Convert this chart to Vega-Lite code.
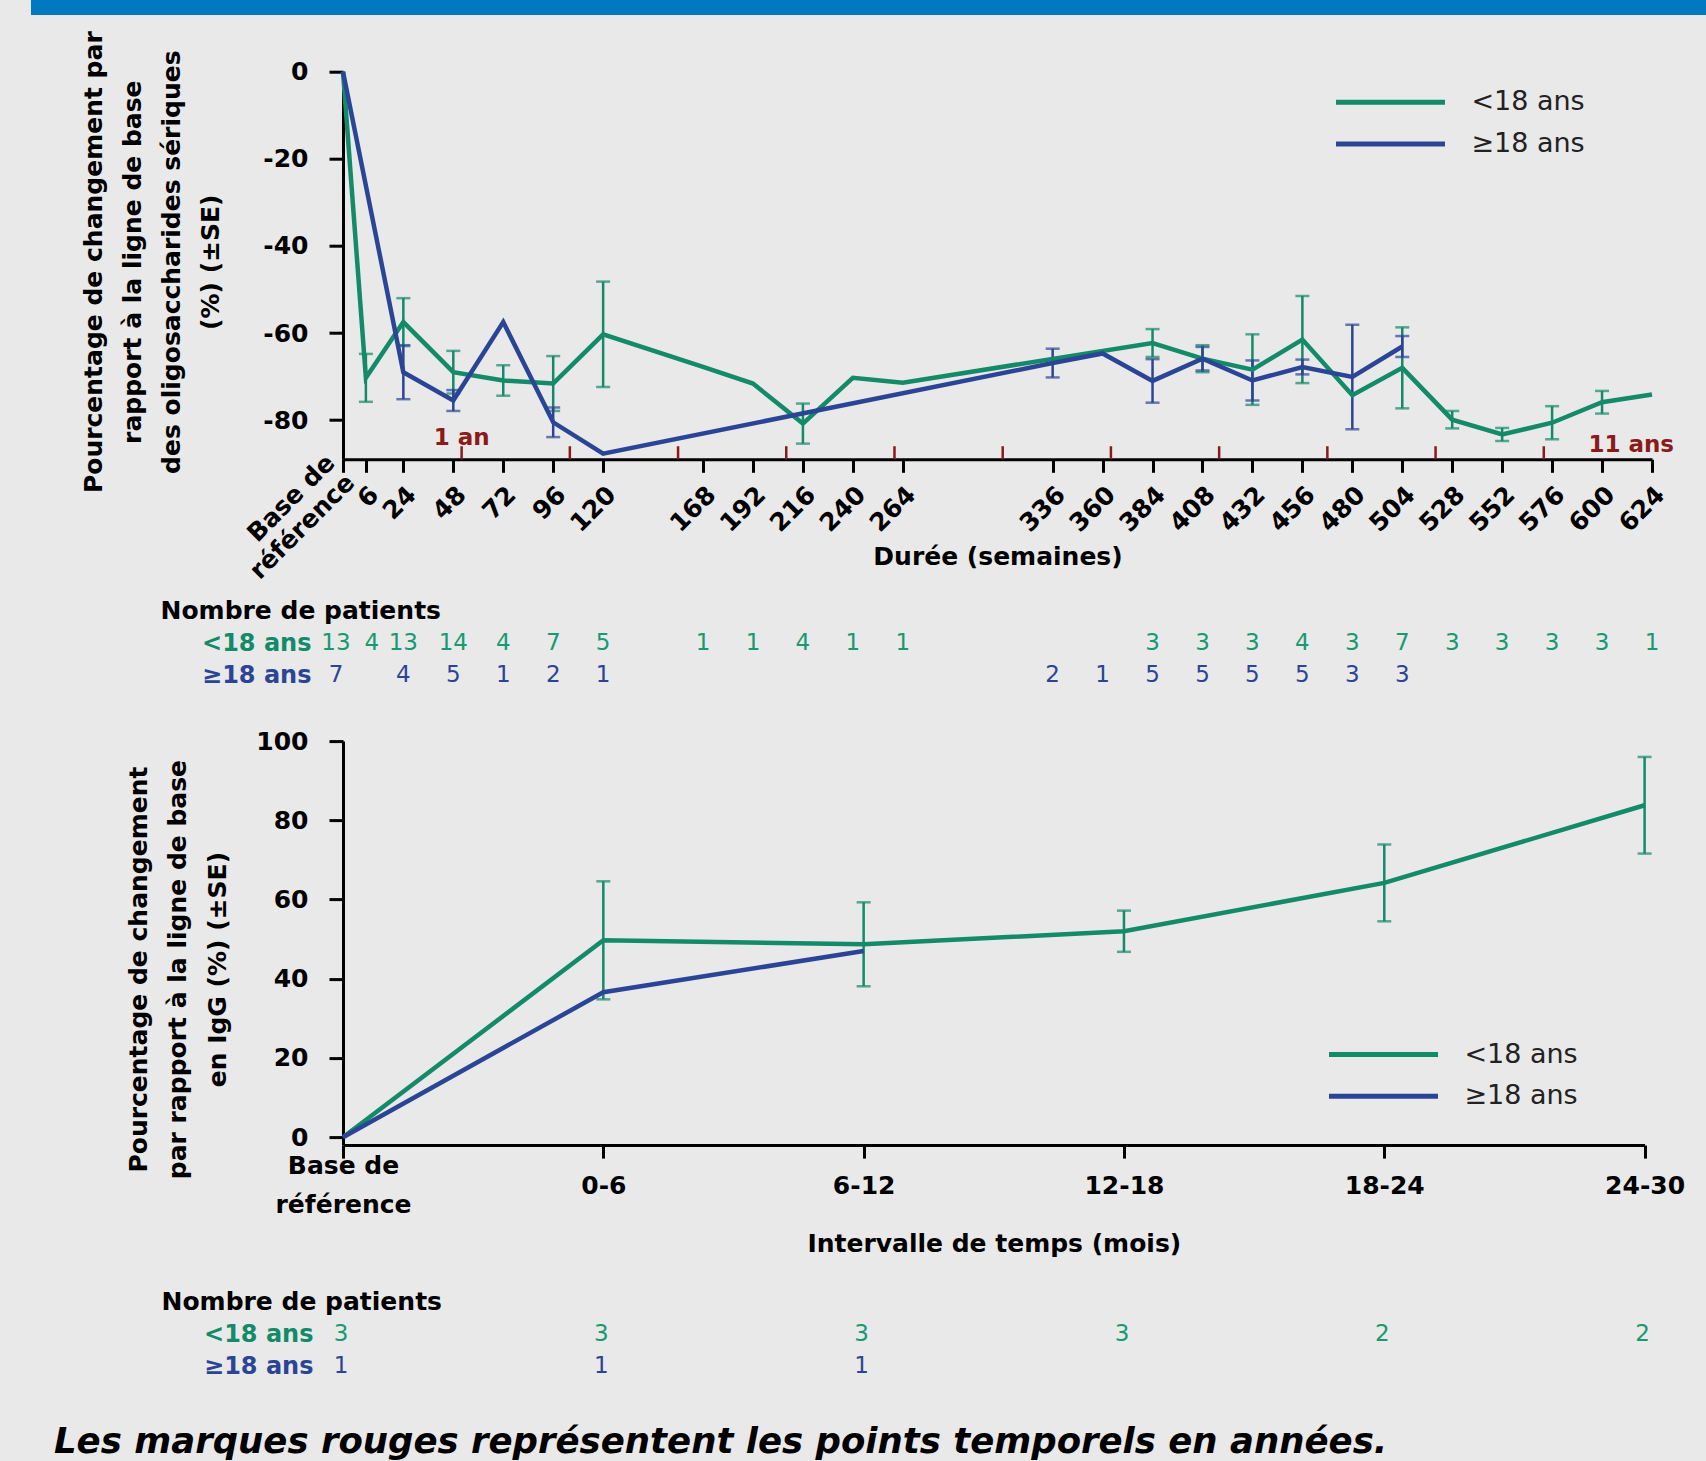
{
  "$schema": "https://vega.github.io/schema/vega-lite/v6.json",
  "background": "#e9e9e9",
  "padding": {"left": 30, "top": 0, "right": 0, "bottom": 0},
  "bounds": "flush",
  "spacing": 56.7,
  "resolve": {"scale": {"color": "independent"}, "legend": {"color": "independent"}},
  "datasets": {
    "oligo": [
      {"week": -5, "group": "<18 ans", "pct": 0, "se": null, "n": 13},
      {"week": 6, "group": "<18 ans", "pct": -70.3, "se": 5.5, "n": 4},
      {"week": 24, "group": "<18 ans", "pct": -57.5, "se": 5.5, "n": 13},
      {"week": 48, "group": "<18 ans", "pct": -69.0, "se": 4.9, "n": 14},
      {"week": 72, "group": "<18 ans", "pct": -70.9, "se": 3.5, "n": 4},
      {"week": 96, "group": "<18 ans", "pct": -71.6, "se": 6.3, "n": 7},
      {"week": 120, "group": "<18 ans", "pct": -60.3, "se": 12.1, "n": 5},
      {"week": 168, "group": "<18 ans", "pct": -67.8, "se": null, "n": 1},
      {"week": 192, "group": "<18 ans", "pct": -71.6, "se": null, "n": 1},
      {"week": 216, "group": "<18 ans", "pct": -80.8, "se": 4.6, "n": 4},
      {"week": 240, "group": "<18 ans", "pct": -70.3, "se": null, "n": 1},
      {"week": 264, "group": "<18 ans", "pct": -71.4, "se": null, "n": 1},
      {"week": 384, "group": "<18 ans", "pct": -62.3, "se": 3.2, "n": 3},
      {"week": 408, "group": "<18 ans", "pct": -65.9, "se": 3.1, "n": 3},
      {"week": 432, "group": "<18 ans", "pct": -68.4, "se": 8.1, "n": 3},
      {"week": 456, "group": "<18 ans", "pct": -61.5, "se": 10.0, "n": 4},
      {"week": 480, "group": "<18 ans", "pct": -74.3, "se": null, "n": 3},
      {"week": 504, "group": "<18 ans", "pct": -68.0, "se": 9.3, "n": 7},
      {"week": 528, "group": "<18 ans", "pct": -79.9, "se": 2.0, "n": 3},
      {"week": 552, "group": "<18 ans", "pct": -83.3, "se": 1.5, "n": 3},
      {"week": 576, "group": "<18 ans", "pct": -80.6, "se": 3.8, "n": 3},
      {"week": 600, "group": "<18 ans", "pct": -75.9, "se": 2.6, "n": 3},
      {"week": 624, "group": "<18 ans", "pct": -74.1, "se": null, "n": 1},
      {"week": -5, "group": "≥18 ans", "pct": 0, "se": null, "n": 7},
      {"week": 24, "group": "≥18 ans", "pct": -69.0, "se": 6.2, "n": 4},
      {"week": 48, "group": "≥18 ans", "pct": -75.5, "se": 2.4, "n": 5},
      {"week": 72, "group": "≥18 ans", "pct": -57.5, "se": null, "n": 1},
      {"week": 96, "group": "≥18 ans", "pct": -80.5, "se": 3.4, "n": 2},
      {"week": 120, "group": "≥18 ans", "pct": -87.7, "se": null, "n": 1},
      {"week": 336, "group": "≥18 ans", "pct": -66.9, "se": 3.3, "n": 2},
      {"week": 360, "group": "≥18 ans", "pct": -64.7, "se": null, "n": 1},
      {"week": 384, "group": "≥18 ans", "pct": -71.0, "se": 5.0, "n": 5},
      {"week": 408, "group": "≥18 ans", "pct": -65.9, "se": 2.7, "n": 5},
      {"week": 432, "group": "≥18 ans", "pct": -70.9, "se": 4.6, "n": 5},
      {"week": 456, "group": "≥18 ans", "pct": -67.8, "se": 1.7, "n": 5},
      {"week": 480, "group": "≥18 ans", "pct": -70.1, "se": 12.0, "n": 3},
      {"week": 504, "group": "≥18 ans", "pct": -63.1, "se": 2.4, "n": 3}
    ],
    "igg": [
      {"interval": "Base de référence", "group": "<18 ans", "pct": 0, "se": null, "n": 3},
      {"interval": "0-6", "group": "<18 ans", "pct": 49.7, "se": 14.9, "n": 3},
      {"interval": "6-12", "group": "<18 ans", "pct": 48.7, "se": 10.6, "n": 3},
      {"interval": "12-18", "group": "<18 ans", "pct": 52.0, "se": 5.2, "n": 3},
      {"interval": "18-24", "group": "<18 ans", "pct": 64.2, "se": 9.7, "n": 2},
      {"interval": "24-30", "group": "<18 ans", "pct": 83.8, "se": 12.2, "n": 2},
      {"interval": "Base de référence", "group": "≥18 ans", "pct": 0, "se": null, "n": 1},
      {"interval": "0-6", "group": "≥18 ans", "pct": 36.6, "se": null, "n": 1},
      {"interval": "6-12", "group": "≥18 ans", "pct": 47.0, "se": null, "n": 1}
    ],
    "years": [
      {"year": 1, "week": 52}, {"year": 2, "week": 104}, {"year": 3, "week": 156},
      {"year": 4, "week": 208}, {"year": 5, "week": 260}, {"year": 6, "week": 312},
      {"year": 7, "week": 364}, {"year": 8, "week": 416}, {"year": 9, "week": 468},
      {"year": 10, "week": 520}, {"year": 11, "week": 572}
    ],
    "yearLabels": [
      {"label": "1 an", "at": 52, "level": -85.8},
      {"label": "11 ans", "at": 614, "level": -87.3}
    ],
    "banner": [{"from": 0, "to": 1}]
  },
  "vconcat": [
    {
      "width": 1364, "height": 15,
      "data": {"name": "banner"},
      "mark": {"type": "rect", "color": "#0079c1"},
      "encoding": {
        "x": {"field": "from", "type": "quantitative", "scale": {"domain": [0.18616, 1], "nice": false, "zero": false}, "axis": null},
        "x2": {"field": "to"}
      }
    },
    {
      "width": 1309, "height": 387.6,
      "layer": [
        {
          "data": {"name": "years"},
          "mark": {"type": "rule", "color": "#8b1a1a", "strokeWidth": 2.5, "clip": false},
          "encoding": {
            "x": {"field": "week", "type": "quantitative", "scale": {"domain": [-5, 624], "nice": false, "zero": false}},
            "y": {"datum": -89, "type": "quantitative", "scale": {"domain": [-89, 0], "nice": false, "zero": false}},
            "y2": {"datum": -86}
          }
        },
        {
          "data": {"name": "yearLabels"},
          "mark": {"type": "text", "color": "#8b1a1a", "font": "DejaVu Sans", "fontWeight": "bold", "fontSize": 23, "baseline": "alphabetic", "align": "center"},
          "encoding": {
            "x": {"field": "at", "type": "quantitative"},
            "y": {"field": "level", "type": "quantitative"},
            "text": {"field": "label", "type": "nominal"}
          }
        },
        {
          "data": {"name": "oligo"},
          "encoding": {
            "x": {
              "field": "week", "type": "quantitative",
              "scale": {"domain": [-5, 624], "nice": false, "zero": false},
              "axis": {
                "title": "Durée (semaines)",
                "values": [-5, 6, 24, 48, 72, 96, 120, 168, 192, 216, 240, 264, 336, 360, 384, 408, 432, 456, 480, 504, 528, 552, 576, 600, 624],
                "labelExpr": "datum.value == -5 ? ['Base de', 'référence'] : datum.label",
                "labelAngle": -45, "labelAlign": "right", "labelBaseline": "middle",
                "labelPadding": {"condition": {"test": "datum.value == -5", "value": -14}, "value": 18},
                "labelOffset": {"condition": {"test": "datum.value == -5", "value": -13}, "value": 8},
                "labelLineHeight": 28,
                "labelOverlap": false, "labelFlush": false, "tickSize": 13,
                "titleY": 97, "titleBaseline": "middle"
              }
            },
            "y": {
              "field": "pct", "type": "quantitative",
              "scale": {"domain": [-89, 0], "nice": false, "zero": false},
              "axis": {
                "title": ["Pourcentage de changement par", "rapport à la ligne de base", "des oligosaccharides sériques", "(%) (±SE)"],
                "values": [0, -20, -40, -60, -80],
                "labelExpr": "'' + datum.value",
                "tickSize": 14, "labelPadding": 21,
                "titleX": -249.5, "titleY": 190, "titleAngle": -90, "titleAlign": "center",
                "titleBaseline": "middle", "titleLineHeight": 39
              }
            }
          },
          "layer": [
            {
              "transform": [{"filter": "datum.group == '<18 ans' && datum.se != null"}],
              "mark": {"type": "errorbar", "color": "#138a68", "thickness": 2.5, "ticks": {"size": 14, "thickness": 2.5}},
              "encoding": {"yError": {"field": "se"}}
            },
            {
              "transform": [{"filter": "datum.group == '≥18 ans' && datum.se != null"}],
              "mark": {"type": "errorbar", "color": "#2b4596", "thickness": 2.5, "ticks": {"size": 14, "thickness": 2.5}},
              "encoding": {"yError": {"field": "se"}}
            },
            {
              "mark": {"type": "line", "strokeWidth": 4.5},
              "encoding": {
                "color": {
                  "field": "group", "type": "nominal",
                  "scale": {"domain": ["<18 ans", "≥18 ans"], "range": ["#138a68", "#2b4596"]},
                  "legend": {"title": null, "orient": "none", "legendX": 1031, "legendY": 14, "rowPadding": 11.7}
                }
              }
            }
          ]
        }
      ]
    },
    {
      "width": 1309, "height": 167.3,
      "data": {"name": "oligo"},
      "encoding": {
        "x": {"field": "week", "type": "quantitative", "scale": {"domain": [-5, 624], "nice": false, "zero": false}, "axis": null},
        "y": {
          "field": "group", "type": "nominal",
          "scale": {"type": "point", "domain": ["<18 ans", "≥18 ans"], "range": [127, 159], "padding": 0},
          "axis": {
            "title": "Nombre de patients", "titleAngle": 0, "titleX": -183, "titleY": 94,
            "titleAlign": "left", "titleBaseline": "middle",
            "domain": false, "ticks": false, "tickSize": 0, "labelPadding": 32, "labelFontSize": 24,
            "labelColor": {"condition": {"test": "datum.value == '<18 ans'", "value": "#138a68"}, "value": "#2b4596"}
          }
        },
        "text": {"field": "n", "type": "nominal"},
        "color": {"field": "group", "type": "nominal", "scale": {"domain": ["<18 ans", "≥18 ans"], "range": ["#179a72", "#2b4596"]}, "legend": null}
      },
      "layer": [
        {
          "transform": [{"filter": "datum.week == -5"}],
          "mark": {"type": "text", "font": "DejaVu Sans", "fontSize": 23, "baseline": "middle", "align": "center", "dx": -7}
        },
        {
          "transform": [{"filter": "datum.week == 6"}],
          "mark": {"type": "text", "font": "DejaVu Sans", "fontSize": 23, "baseline": "middle", "align": "center", "dx": 6}
        },
        {
          "transform": [{"filter": "datum.week > 6"}],
          "mark": {"type": "text", "font": "DejaVu Sans", "fontSize": 23, "baseline": "middle", "align": "center"}
        }
      ]
    },
    {
      "width": 1301.6, "height": 404,
      "data": {"name": "igg"},
      "encoding": {
        "x": {
          "field": "interval", "type": "ordinal",
          "sort": ["Base de référence", "0-6", "6-12", "12-18", "18-24", "24-30"],
          "scale": {"type": "point", "padding": 0},
          "axis": {
            "title": "Intervalle de temps (mois)",
            "labelAngle": 0,
            "labelExpr": "datum.value == 'Base de référence' ? ['Base de', 'référence'] : datum.label",
            "labelBaseline": "middle",
            "labelPadding": {"condition": {"test": "datum.value == 'Base de référence'", "value": 7.5}, "value": 27},
            "labelLineHeight": 39, "tickSize": 13,
            "titleY": 98.5, "titleBaseline": "middle"
          }
        },
        "y": {
          "field": "pct", "type": "quantitative",
          "scale": {"domain": [-2, 100], "nice": false, "zero": false},
          "axis": {
            "title": ["Pourcentage de changement", "par rapport à la ligne de base", "en IgG (%) (±SE)"],
            "values": [0, 20, 40, 60, 80, 100],
            "tickSize": 14, "labelPadding": 21,
            "titleX": -205, "titleY": 228, "titleAngle": -90, "titleAlign": "center",
            "titleBaseline": "middle", "titleLineHeight": 39.5
          }
        }
      },
      "layer": [
        {
          "transform": [{"filter": "datum.group == '<18 ans' && datum.se != null"}],
          "mark": {"type": "errorbar", "color": "#138a68", "thickness": 2.5, "ticks": {"size": 14, "thickness": 2.5}},
          "encoding": {"yError": {"field": "se"}}
        },
        {
          "mark": {"type": "line", "strokeWidth": 4.5},
          "encoding": {
            "color": {
              "field": "group", "type": "nominal",
              "scale": {"domain": ["<18 ans", "≥18 ans"], "range": ["#138a68", "#2b4596"]},
              "legend": {"title": null, "orient": "none", "legendX": 1024, "legendY": 297, "rowPadding": 11.7}
            }
          }
        }
      ]
    },
    {
      "width": 1301.6, "height": 170,
      "data": {"name": "igg"},
      "title": {
        "text": "Les marques rouges représentent les points temporels en années.",
        "orient": "bottom", "anchor": "start", "frame": "group", "dx": -289, "offset": 47,
        "font": "DejaVu Sans", "fontSize": 35.5, "fontWeight": "bold", "fontStyle": "italic", "color": "black"
      },
      "mark": {"type": "text", "font": "DejaVu Sans", "fontSize": 23, "baseline": "middle", "align": "center", "dx": -2},
      "encoding": {
        "x": {
          "field": "interval", "type": "ordinal",
          "sort": ["Base de référence", "0-6", "6-12", "12-18", "18-24", "24-30"],
          "scale": {"type": "point", "padding": 0}, "axis": null
        },
        "y": {
          "field": "group", "type": "nominal",
          "scale": {"type": "point", "domain": ["<18 ans", "≥18 ans"], "range": [132.3, 164.3], "padding": 0},
          "axis": {
            "title": "Nombre de patients", "titleAngle": 0, "titleX": -182, "titleY": 99.3,
            "titleAlign": "left", "titleBaseline": "middle",
            "domain": false, "ticks": false, "tickSize": 0, "labelPadding": 30, "labelFontSize": 24,
            "labelColor": {"condition": {"test": "datum.value == '<18 ans'", "value": "#138a68"}, "value": "#2b4596"}
          }
        },
        "text": {"field": "n", "type": "nominal"},
        "color": {"field": "group", "type": "nominal", "scale": {"domain": ["<18 ans", "≥18 ans"], "range": ["#179a72", "#2b4596"]}, "legend": null}
      }
    }
  ],
  "config": {
    "font": "DejaVu Sans",
    "view": {"stroke": null},
    "axis": {
      "labelFont": "DejaVu Sans", "labelFontSize": 25, "labelFontWeight": "bold", "labelColor": "black",
      "titleFont": "DejaVu Sans", "titleFontSize": 25, "titleFontWeight": "bold", "titleColor": "black",
      "domainColor": "black", "domainWidth": 3, "tickColor": "black", "tickWidth": 3, "grid": false
    },
    "legend": {
      "symbolType": "M-4,0L4,0", "symbolSize": 742.6, "symbolStrokeWidth": 5,
      "labelFont": "DejaVu Sans", "labelFontSize": 27, "labelColor": "#222222", "labelOffset": 64.4,
      "padding": 0
    }
  }
}
